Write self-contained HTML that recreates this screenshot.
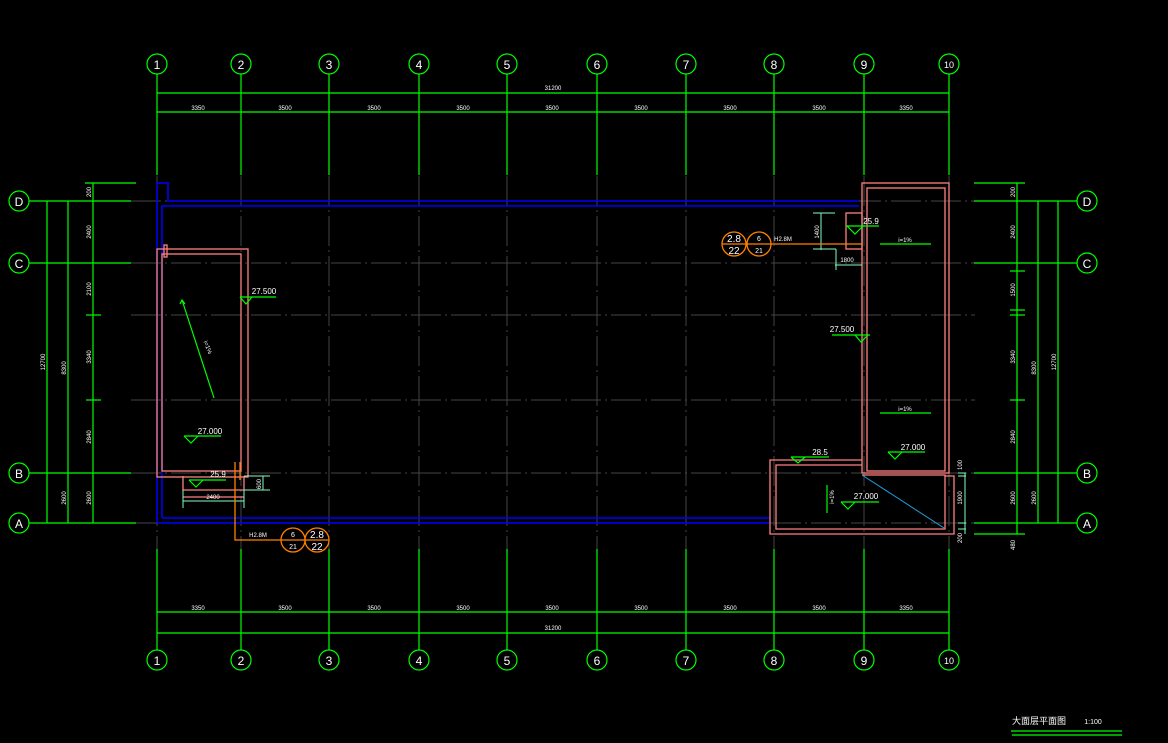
<!DOCTYPE html>
<html><head><meta charset="utf-8"><style>
html,body{margin:0;padding:0;background:#000;}
svg{display:block;}
text{font-family:"Liberation Sans","Noto Sans CJK SC",sans-serif;fill:#fff;}
.g{stroke:#00ff00;stroke-width:1.2;fill:none}
.gr{stroke:#444;stroke-width:1;fill:none;stroke-dasharray:30 4 2 4}
.b{stroke:#0000ff;stroke-width:1.5;fill:none}
.p{stroke:#ff8080;stroke-width:1.3;fill:none}
.o{stroke:#ff8000;stroke-width:1.3;fill:none}
.c{stroke:#80ffc0;stroke-width:1;fill:none}
.t{font-size:6px}
.n{font-size:12px}
</style></head><body>
<svg width="1168" height="743" viewBox="0 0 1168 743" xmlns="http://www.w3.org/2000/svg">
<!-- gray grid interior -->
<g class="gr">
<line x1="157" y1="176" x2="157" y2="549"/><line x1="241" y1="176" x2="241" y2="549"/><line x1="329" y1="176" x2="329" y2="549"/><line x1="419" y1="176" x2="419" y2="549"/><line x1="507" y1="176" x2="507" y2="549"/><line x1="597" y1="176" x2="597" y2="549"/><line x1="686" y1="176" x2="686" y2="549"/><line x1="774" y1="176" x2="774" y2="549"/><line x1="864" y1="176" x2="864" y2="549"/><line x1="949" y1="176" x2="949" y2="549"/>
<line x1="131" y1="201" x2="975" y2="201"/><line x1="131" y1="263" x2="975" y2="263"/><line x1="131" y1="315" x2="975" y2="315"/><line x1="131" y1="400" x2="975" y2="400"/><line x1="131" y1="473" x2="975" y2="473"/><line x1="131" y1="523" x2="975" y2="523"/>
</g>
<!-- green column lines top -->
<g class="g">
<line x1="157" y1="74" x2="157" y2="175"/><line x1="241" y1="74" x2="241" y2="175"/><line x1="329" y1="74" x2="329" y2="175"/><line x1="419" y1="74" x2="419" y2="175"/><line x1="507" y1="74" x2="507" y2="175"/><line x1="597" y1="74" x2="597" y2="175"/><line x1="686" y1="74" x2="686" y2="175"/><line x1="774" y1="74" x2="774" y2="175"/><line x1="864" y1="74" x2="864" y2="175"/><line x1="949" y1="74" x2="949" y2="175"/>
<line x1="157" y1="549" x2="157" y2="650"/><line x1="241" y1="549" x2="241" y2="650"/><line x1="329" y1="549" x2="329" y2="650"/><line x1="419" y1="549" x2="419" y2="650"/><line x1="507" y1="549" x2="507" y2="650"/><line x1="597" y1="549" x2="597" y2="650"/><line x1="686" y1="549" x2="686" y2="650"/><line x1="774" y1="549" x2="774" y2="650"/><line x1="864" y1="549" x2="864" y2="650"/><line x1="949" y1="549" x2="949" y2="650"/>
<line x1="157" y1="93" x2="949" y2="93"/><line x1="157" y1="112" x2="949" y2="112"/>
<line x1="157" y1="612" x2="949" y2="612"/><line x1="157" y1="633" x2="949" y2="633"/>
<circle cx="157" cy="64" r="10"/><circle cx="241" cy="64" r="10"/><circle cx="329" cy="64" r="10"/><circle cx="419" cy="64" r="10"/><circle cx="507" cy="64" r="10"/><circle cx="597" cy="64" r="10"/><circle cx="686" cy="64" r="10"/><circle cx="774" cy="64" r="10"/><circle cx="864" cy="64" r="10"/><circle cx="949" cy="64" r="10"/>
<circle cx="157" cy="660" r="10"/><circle cx="241" cy="660" r="10"/><circle cx="329" cy="660" r="10"/><circle cx="419" cy="660" r="10"/><circle cx="507" cy="660" r="10"/><circle cx="597" cy="660" r="10"/><circle cx="686" cy="660" r="10"/><circle cx="774" cy="660" r="10"/><circle cx="864" cy="660" r="10"/><circle cx="949" cy="660" r="10"/>
<!-- left rows -->
<circle cx="19" cy="201" r="10"/><circle cx="19" cy="263" r="10"/><circle cx="19" cy="473" r="10"/><circle cx="19" cy="523" r="10"/>
<line x1="29" y1="201" x2="131" y2="201"/><line x1="29" y1="263" x2="131" y2="263"/><line x1="29" y1="473" x2="131" y2="473"/><line x1="29" y1="523" x2="136" y2="523"/>
<line x1="85" y1="183" x2="136" y2="183"/>
<line x1="47" y1="201" x2="47" y2="523"/><line x1="68" y1="201" x2="68" y2="523"/><line x1="93" y1="183" x2="93" y2="523"/>
<line x1="86" y1="315" x2="101" y2="315"/><line x1="86" y1="400" x2="101" y2="400"/>
<!-- right rows -->
<circle cx="1087" cy="201" r="10"/><circle cx="1087" cy="263" r="10"/><circle cx="1087" cy="473" r="10"/><circle cx="1087" cy="523" r="10"/>
<line x1="974" y1="201" x2="1077" y2="201"/><line x1="974" y1="263" x2="1077" y2="263"/><line x1="974" y1="473" x2="1077" y2="473"/><line x1="974" y1="523" x2="1077" y2="523"/>
<line x1="974" y1="183" x2="1025" y2="183"/><line x1="974" y1="534" x2="1025" y2="534"/>
<line x1="1058" y1="201" x2="1058" y2="523"/><line x1="1038" y1="201" x2="1038" y2="523"/><line x1="1017" y1="183" x2="1017" y2="534"/>
<line x1="1010" y1="271" x2="1025" y2="271"/><line x1="1010" y1="310" x2="1025" y2="310"/><line x1="1010" y1="315" x2="1025" y2="315"/><line x1="1010" y1="400" x2="1025" y2="400"/>
<!-- title underline -->
<line x1="1011" y1="731" x2="1122" y2="731"/><line x1="1012" y1="735" x2="1122" y2="735"/>
</g>
<!-- blue -->
<g class="b">
<polyline points="157,523 157,183 168,183 168,201 859,201"/>
<polyline points="162,518 162,206 859,206"/>
<line x1="157" y1="523" x2="770" y2="523"/><line x1="162" y1="518" x2="770" y2="518"/>
</g>
<!-- pink -->
<g class="p">
<rect x="157" y="249" width="91" height="228"/><rect x="162" y="254" width="79" height="217"/><rect x="164" y="245" width="3" height="12"/>
<rect x="862" y="183" width="87" height="290"/><rect x="867" y="188" width="78" height="283"/>
<polyline points="862,460 770,460 770,534 954,534 954,476 945,476"/>
<polyline points="862,465 776,465 776,529 945,529 945,475 862,475"/>
<rect x="846" y="213" width="16" height="36"/>
<polyline points="183,476 183,490 244,490 244,476"/><line x1="183" y1="497" x2="244" y2="497"/>
</g>
<line x1="862" y1="475" x2="944" y2="528" stroke="#1ea0e0" stroke-width="1"/>
<!-- cyan dims -->
<g class="c">
<line x1="813" y1="213" x2="835" y2="213"/><line x1="821" y1="213" x2="821" y2="250"/><line x1="813" y1="249" x2="836" y2="249"/><polyline points="836,249 836,270"/><line x1="835" y1="265" x2="862" y2="265"/>
<line x1="183" y1="490" x2="183" y2="508"/><line x1="244" y1="490" x2="244" y2="508"/><line x1="183" y1="501" x2="244" y2="501"/>
<line x1="244" y1="476" x2="270" y2="476"/><line x1="244" y1="490" x2="270" y2="490"/><line x1="263" y1="476" x2="263" y2="490"/>
<line x1="958" y1="473" x2="966" y2="473"/><line x1="958" y1="476" x2="966" y2="476"/><line x1="958" y1="523" x2="966" y2="523"/><line x1="958" y1="529" x2="966" y2="529"/><line x1="965" y1="473" x2="965" y2="534"/>
</g>
<!-- orange callouts -->
<g class="o">
<circle cx="734" cy="244" r="12"/><circle cx="759" cy="244" r="12"/><line x1="722" y1="244" x2="862" y2="244"/>
<circle cx="293" cy="540" r="12"/><circle cx="317" cy="540" r="12"/><polyline points="235,462 235,540 329,540"/><line x1="240" y1="462" x2="240" y2="480"/>
</g>
<!-- elevation markers -->
<g class="g">
<polyline points="240,297 276,297"/><polyline points="240,297 246,304 252,297"/>
<line x1="182" y1="300" x2="214" y2="398"/><polyline points="180,304 182,300 185,304"/>
<polyline points="184,436 221,436"/><polyline points="184,436 191,443 198,436"/>
<polyline points="189,480 226,480"/><polyline points="189,480 196,487 203,480"/>
<polyline points="846,226 879,226"/><polyline points="847,226 855,234 863,226"/>
<line x1="880" y1="244" x2="931" y2="244"/><line x1="880" y1="413" x2="931" y2="413"/>
<polyline points="832,335 870,335"/><polyline points="855,335 861,342 868,335"/>
<polyline points="888,452 925,452"/><polyline points="888,452 895,459 902,452"/>
<polyline points="791,457 829,457"/><polyline points="791,457 798,463 805,457"/>
<polyline points="841,502 879,502"/><polyline points="841,502 848,509 855,502"/>
<line x1="827" y1="485" x2="827" y2="513"/>
</g>
<!-- column labels -->
<g class="n" text-anchor="middle">
<text x="157" y="69">1</text><text x="241" y="69">2</text><text x="329" y="69">3</text><text x="419" y="69">4</text><text x="507" y="69">5</text><text x="597" y="69">6</text><text x="686" y="69">7</text><text x="774" y="69">8</text><text x="864" y="69">9</text><text x="949" y="68" style="font-size:9px">10</text>
<text x="157" y="665">1</text><text x="241" y="665">2</text><text x="329" y="665">3</text><text x="419" y="665">4</text><text x="507" y="665">5</text><text x="597" y="665">6</text><text x="686" y="665">7</text><text x="774" y="665">8</text><text x="864" y="665">9</text><text x="949" y="664" style="font-size:9px">10</text>
<text x="19" y="206">D</text><text x="19" y="268">C</text><text x="19" y="478">B</text><text x="19" y="528">A</text>
<text x="1087" y="206">D</text><text x="1087" y="268">C</text><text x="1087" y="478">B</text><text x="1087" y="528">A</text>
<text x="734" y="242" style="font-size:10px">2.8</text><text x="734" y="254" style="font-size:10px">22</text>
<text x="759" y="241" style="font-size:7px">6</text><text x="759" y="253" style="font-size:7px">21</text>
<text x="293" y="537" style="font-size:7px">6</text><text x="293" y="549" style="font-size:7px">21</text>
<text x="317" y="538" style="font-size:10px">2.8</text><text x="317" y="550" style="font-size:10px">22</text>
</g>
<g class="t" text-anchor="middle">
<text x="553" y="90">31200</text><text x="553" y="630">31200</text>
<text x="198" y="110">3350</text><text x="285" y="110">3500</text><text x="374" y="110">3500</text><text x="463" y="110">3500</text><text x="552" y="110">3500</text><text x="641" y="110">3500</text><text x="730" y="110">3500</text><text x="819" y="110">3500</text><text x="906" y="110">3350</text>
<text x="198" y="610">3350</text><text x="285" y="610">3500</text><text x="374" y="610">3500</text><text x="463" y="610">3500</text><text x="552" y="610">3500</text><text x="641" y="610">3500</text><text x="730" y="610">3500</text><text x="819" y="610">3500</text><text x="906" y="610">3350</text>
<text x="264" y="294" style="font-size:8px">27.500</text><text x="210" y="434" style="font-size:8px">27.000</text><text x="218" y="477" style="font-size:8px">25.9</text><text x="213" y="499">2400</text>
<text x="871" y="224" style="font-size:8px">25.9</text><text x="847" y="262">1800</text><text x="905" y="242">i=1%</text><text x="905" y="411">i=1%</text>
<text x="842" y="332" style="font-size:8px">27.500</text><text x="913" y="450" style="font-size:8px">27.000</text><text x="820" y="455" style="font-size:8px">28.5</text><text x="866" y="499" style="font-size:8px">27.000</text>
<text x="783" y="241">H2.8M</text><text x="258" y="537">H2.8M</text>
<text x="1093" y="724" style="font-size:7px">1:100</text>
</g>
<text x="1012" y="724" style="font-size:9px;font-family:'Noto Sans CJK SC',sans-serif">大面层平面图</text>
<!-- vertical dim texts -->
<g class="t" text-anchor="middle">
<text transform="translate(45,362) rotate(-90)">12700</text><text transform="translate(66,368) rotate(-90)">8300</text><text transform="translate(66,498) rotate(-90)">2600</text>
<text transform="translate(91,192) rotate(-90)">200</text><text transform="translate(91,232) rotate(-90)">2400</text><text transform="translate(91,289) rotate(-90)">2100</text><text transform="translate(91,357) rotate(-90)">3340</text><text transform="translate(91,437) rotate(-90)">2840</text><text transform="translate(91,498) rotate(-90)">2600</text>
<text transform="translate(1056,362) rotate(-90)">12700</text><text transform="translate(1036,368) rotate(-90)">8300</text><text transform="translate(1036,498) rotate(-90)">2600</text>
<text transform="translate(1015,192) rotate(-90)">200</text><text transform="translate(1015,232) rotate(-90)">2400</text><text transform="translate(1015,290) rotate(-90)">1500</text><text transform="translate(1015,357) rotate(-90)">3340</text><text transform="translate(1015,437) rotate(-90)">2840</text><text transform="translate(1015,498) rotate(-90)">2600</text><text transform="translate(1015,545) rotate(-90)">480</text>
<text transform="translate(819,232) rotate(-90)">1400</text><text transform="translate(261,484) rotate(-90)">600</text><text transform="translate(962,498) rotate(-90)">1900</text><text transform="translate(962,538) rotate(-90)">200</text><text transform="translate(962,465) rotate(-90)">100</text>
<text transform="translate(206,348) rotate(68)">i=1%</text><text transform="translate(834,497) rotate(-90)">i=1%</text>
</g>
</svg>
</body></html>
